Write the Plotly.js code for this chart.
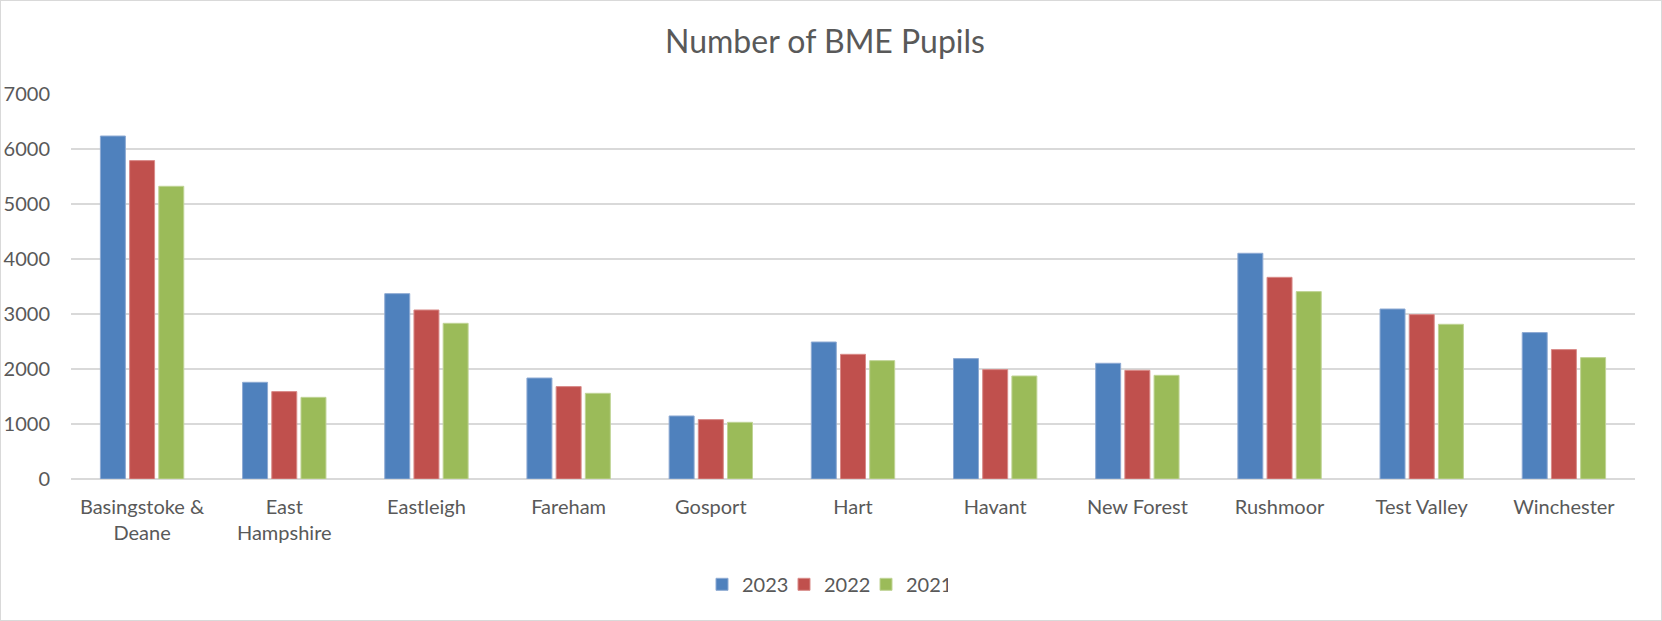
<!DOCTYPE html>
<html>
<head>
<meta charset="utf-8">
<script src="https://cdn.plot.ly/plotly-3.0.1.min.js"></script>
<style>
  html, body { margin: 0; padding: 0; background: #ffffff; }
  #wrap { width: 1662px; height: 621px; box-sizing: border-box; border: 1px solid #d9d9d9; overflow: hidden; }
  #chart { width: 1660px; height: 619px; }
</style>
</head>
<body>
<div id="wrap"><div id="chart"></div></div>
<script>
const categories = ["Basingstoke &<br>Deane", "East<br>Hampshire", "Eastleigh", "Fareham", "Gosport", "Hart", "Havant", "New Forest", "Rushmoor", "Test Valley", "Winchester"];
const values2023 = [6236, 1758, 3370, 1836, 1146, 2491, 2189, 2104, 4104, 3091, 2662];
const values2022 = [5789, 1589, 3073, 1680, 1080, 2267, 1989, 1976, 3667, 2989, 2353];
const values2021 = [5322, 1485, 2831, 1558, 1031, 2152, 1873, 1885, 3407, 2813, 2207];
const seriesNames = ["2023", "2022", "2021"];
const yTicks = [0, 1000, 2000, 3000, 4000, 5000, 6000, 7000];

const FONT = "Lato, 'Open Sans', sans-serif";
const TXT = "#595959";
const colors = ["#4F81BD", "#C0504D", "#9BBB59"];
const lines = ["#8eaad3", "#d98b89", "#c0d496"];
const series = [values2023, values2022, values2021];

const traces = series.map((vals, i) => ({
  type: "bar",
  name: seriesNames[i],
  x: categories,
  y: vals,
  marker: { color: colors[i], line: { color: lines[i], width: 1 } },
  hoverinfo: "x+y+name"
}));

// an invisible, wide legend title widens the legend box so the last label is never clipped
const legendPad = "\u00a0".repeat(90);

const layout = {
  width: 1660,
  height: 619,
  margin: { l: 70, r: 26, t: 93, b: 141, pad: 0 },
  paper_bgcolor: "#ffffff",
  plot_bgcolor: "#ffffff",
  font: { family: FONT, color: TXT, size: 20 },
  title: {
    text: "Number of BME Pupils",
    font: { family: FONT, size: 32, color: TXT },
    x: 824 / 1660, xref: "container", xanchor: "center",
    y: 1 - 41 / 619, yref: "container", yanchor: "middle"
  },
  barmode: "group",
  bargap: 0.384,
  bargroupgap: 0.144,
  xaxis: {
    type: "category",
    showgrid: false,
    showline: false,
    zeroline: false,
    ticks: "",
    tickfont: { family: FONT, size: 20, color: TXT },
    ticklabelstandoff: 14
  },
  yaxis: {
    range: [0, 7000],
    tickvals: yTicks,
    ticktext: yTicks.map(String),
    showgrid: true,
    gridcolor: "#d9d9d9",
    gridwidth: 1.5,
    zeroline: true,
    zerolinecolor: "#d9d9d9",
    zerolinewidth: 1.5,
    showline: false,
    ticks: "",
    tickfont: { family: FONT, size: 20, color: TXT },
    ticklabelstandoff: 20
  },
  showlegend: true,
  legend: {
    orientation: "h",
    xref: "container",
    x: 701 / 1660, xanchor: "left",
    yref: "container",
    y: 1 - 603 / 619, yanchor: "bottom",
    font: { family: FONT, size: 20, color: TXT },
    title: { text: legendPad, side: "top", font: { family: FONT, size: 6, color: "#ffffff" } },
    entrywidth: 37,
    itemwidth: 30,
    traceorder: "normal"
  }
};

Plotly.newPlot("chart", traces, layout, { displayModeBar: false, staticPlot: true });
</script>
</body>
</html>
